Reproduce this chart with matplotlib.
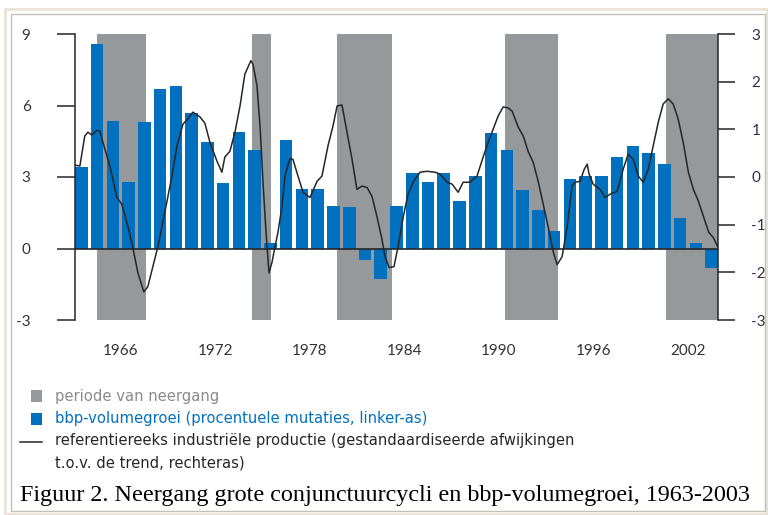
import numpy as np
import matplotlib
matplotlib.use('Agg')
import matplotlib.pyplot as plt
from matplotlib.patches import Rectangle
from matplotlib.lines import Line2D

# bbp-volumegroei per jaar (linker as, %)
years = np.arange(1963, 2004)
bbp = [3.4, 8.6, 5.33, 2.8, 5.3, 6.7, 6.8, 5.7, 4.45, 2.75,
       4.9, 4.15, 0.25, 4.55, 2.5, 2.5, 1.8, 1.75, -0.5, -1.27,
       1.8, 3.15, 2.8, 3.15, 2.0, 3.05, 4.85, 4.15, 2.45, 1.6,
       0.73, 2.9, 3.05, 3.05, 3.85, 4.3, 4.0, 3.55, 1.27, 0.25, -0.8]

# referentiereeks industriele productie (rechter as)
ip_t = [1963.09, 1963.41, 1963.72, 1963.92, 1964.17, 1964.49, 1964.68, 1964.87,
        1965.31, 1965.76, 1966.07, 1966.46, 1966.77, 1967.09, 1967.47, 1967.72,
        1968.04, 1968.36, 1968.80, 1969.25, 1969.57, 1969.95, 1970.26, 1970.58,
        1971.03, 1971.34, 1971.66, 1972.11, 1972.42, 1972.61, 1972.93, 1973.25,
        1973.57, 1973.88, 1974.26, 1974.39, 1974.65, 1974.84, 1975.03, 1975.22,
        1975.41, 1975.60, 1975.79, 1975.98, 1976.23, 1976.42, 1976.74, 1976.93,
        1977.25, 1977.57, 1978.01, 1978.46, 1978.77, 1979.15, 1979.47, 1979.73,
        1980.04, 1980.36, 1980.68, 1980.99, 1981.31, 1981.63, 1981.95, 1982.26,
        1982.58, 1982.77, 1983.03, 1983.34, 1983.60, 1983.92, 1984.23, 1984.55,
        1984.99, 1985.44, 1985.95, 1986.26, 1986.71, 1987.03, 1987.41, 1987.73,
        1988.17, 1988.61, 1989.00, 1989.32, 1989.64, 1989.95, 1990.27, 1990.58,
        1990.84, 1991.22, 1991.54, 1991.85, 1992.17, 1992.49, 1992.81, 1993.12,
        1993.44, 1993.69, 1994.01, 1994.33, 1994.64, 1994.84, 1995.15, 1995.41,
        1995.60, 1995.72, 1995.98, 1996.42, 1996.74, 1997.06, 1997.50, 1997.88,
        1998.20, 1998.52, 1998.84, 1999.15, 1999.47, 1999.79, 2000.11, 2000.42,
        2000.74, 2001.06, 2001.37, 2001.69, 2002.02, 2002.34, 2002.66, 2002.98,
        2003.31, 2003.60, 2003.91]
ip_v = [0.25, 0.23, 0.86, 0.94, 0.88, 0.98, 0.96, 0.73,
        0.23, -0.43, -0.57, -1.04, -1.48, -2.01, -2.41, -2.30,
        -1.88, -1.46, -0.74, 0.02, 0.65, 1.11, 1.22, 1.36,
        1.26, 1.13, 0.73, 0.33, 0.10, 0.42, 0.54, 0.94,
        1.49, 2.16, 2.44, 2.37, 1.91, 1.07, -0.11, -1.16,
        -2.01, -1.79, -1.46, -1.16, -0.62, 0.02, 0.39, 0.37,
        0.02, -0.32, -0.43, -0.09, 0.02, 0.65, 1.07, 1.49,
        1.51, 0.94, 0.37, -0.26, -0.19, -0.22, -0.41, -0.83,
        -1.31, -1.67, -1.90, -1.88, -1.46, -0.85, -0.36, -0.11,
        0.10, 0.12, 0.10, 0.06, -0.11, -0.15, -0.32, -0.11,
        -0.11, 0.02, 0.42, 0.73, 1.01, 1.28, 1.47, 1.45,
        1.38, 1.05, 0.86, 0.54, 0.31, -0.09, -0.57, -1.04,
        -1.56, -1.84, -1.67, -1.04, -0.19, -0.11, -0.09, 0.16,
        0.27, 0.06, -0.15, -0.26, -0.43, -0.36, -0.30, 0.16,
        0.48, 0.37, 0.02, -0.11, 0.16, 0.65, 1.15, 1.53,
        1.64, 1.53, 1.22, 0.73, 0.10, -0.26, -0.51, -0.83,
        -1.16, -1.27, -1.48]

# perioden van neergang
down_start = [1964.5, 1974.3, 1979.75, 1990.4, 2000.6]
down_end = [1967.6, 1975.55, 1983.2, 1993.75, 2003.9]

tick_years = [1966, 1972, 1978, 1984, 1990, 1996, 2002]

grey = '#95999b'
blue = '#0070bf'
dark = '#262626'

plt.rcParams['font.family'] = ['Lato', 'DejaVu Sans']
plt.rcParams['axes.unicode_minus'] = False

fig = plt.figure(figsize=(7.68, 5.15), dpi=100)
W, H = 768., 515.
ax = fig.add_axes([75/W, 1-320/H, (718-75)/W, (320-34)/H])

for s, e in zip(down_start, down_end):
    ax.axvspan(s, e, color=grey, lw=0, zorder=1)
ax.bar(years + 0.5, bbp, width=0.8, color=blue, zorder=2)
ax.axhline(0, color=dark, lw=1.2, zorder=3)

ax.set_xlim(1963.1, 2003.9)
ax.set_ylim(-3, 9)
ax.set_yticks([-3, 0, 3, 6, 9])
ax.set_xticks(tick_years)
ax.tick_params(axis='x', length=0, pad=17, labelsize=11, labelcolor='#333333')
ax.tick_params(axis='y', direction='out', length=13, width=1.1, color=dark,
               pad=19, labelsize=11, labelcolor='#333333')
for sp in ['top', 'bottom', 'right']:
    ax.spines[sp].set_visible(False)
ax.spines['left'].set_color(dark)
ax.spines['left'].set_linewidth(1.1)

ax2 = ax.twinx()
ax2.plot(ip_t, ip_v, color=dark, lw=1.1, zorder=4)
ax2.set_ylim(-3, 3)
ax2.set_yticks([-3, -2, -1, 0, 1, 2, 3])
ax2.tick_params(axis='y', direction='out', length=12, width=1.1, color=dark,
                pad=12, labelsize=11, labelcolor='#333333')
for sp in ['top', 'bottom', 'left']:
    ax2.spines[sp].set_visible(False)
ax2.spines['right'].set_color(dark)
ax2.spines['right'].set_linewidth(1.1)

# kaders
fig.patches.append(Rectangle((5/W, 1-514/H), 762/W, 505/H, transform=fig.transFigure,
                             fill=False, ec='#e8e3d5', lw=2))
fig.patches.append(Rectangle((11/W, 1-511/H), 754/W, 497/H, transform=fig.transFigure,
                             fill=False, ec='#c4c0b4', lw=1))

# legenda
fig.patches.append(Rectangle((31/W, 1-402/H), 11/W, 12/H, transform=fig.transFigure,
                             color=grey, lw=0))
fig.patches.append(Rectangle((31/W, 1-425/H), 11/W, 12/H, transform=fig.transFigure,
                             color=blue, lw=0))
fig.add_artist(Line2D([20/W, 42/W], [1-442/H, 1-442/H], transform=fig.transFigure,
                      color=dark, lw=1.1))
lfont = dict(family='DejaVu Sans', fontsize=10.6, va='center')
fig.text(55/W, 1-396/H, 'periode van neergang', color='#8a8a8a', **lfont)
fig.text(55/W, 1-419/H, 'bbp-volumegroei (procentuele mutaties, linker-as)',
         color=blue, **lfont)
fig.text(55/W, 1-441/H, 'referentiereeks industriële productie (gestandaardiseerde afwijkingen',
         color=dark, **lfont)
fig.text(55/W, 1-463/H, 't.o.v. de trend, rechteras)', color=dark, **lfont)

fig.text(20/W, 1-495/H, 'Figuur 2. Neergang grote conjunctuurcycli en bbp-volumegroei, 1963-2003',
         family='Liberation Serif', fontsize=17.4, color='black', va='center')

fig.savefig('out.png', dpi=100)
